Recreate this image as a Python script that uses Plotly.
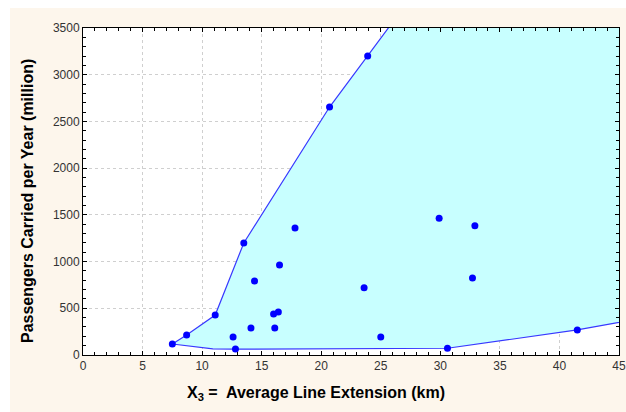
import plotly.graph_objects as go

# Data points: X3 = average line extension (km), passengers carried per year (million)
ext_km = [7.5, 8.7, 11.1, 13.5, 20.7, 23.9, 12.6, 12.8, 14.1, 14.4, 16.0, 16.4, 16.1,
          16.5, 17.8, 23.6, 25.0, 29.9, 30.6, 32.7, 32.9, 41.5]
passengers = [118, 214, 428, 1199, 2654, 3200, 193, 64, 289, 792, 439, 460, 289,
              963, 1359, 720, 193, 1463, 72, 824, 1384, 268]

# Region boundary (extends beyond axes, clipped by the plot area)
hull_x = [7.5, 8.7, 11.1, 13.5, 20.7, 23.9, 27.5, 55, 55, 41.5, 30.6, 12.8, 10.9, 7.5]
hull_y = [118, 214, 428, 1199, 2654, 3200, 3820, 3820, 580, 268, 72, 62, 66, 118]

x_ticks = [0, 5, 10, 15, 20, 25, 30, 35, 40, 45]
y_ticks = [0, 500, 1000, 1500, 2000, 2500, 3000, 3500]

x_title = "<b>X<sub>3</sub> =  Average Line Extension (km)</b>"
y_title = "<b>Passengers Carried per Year (million)</b>"

fig = go.Figure()
fig.add_trace(go.Scatter(x=hull_x, y=hull_y, mode="lines", fill="toself",
                         fillcolor="#C8FFFF", line=dict(color="#3838FF", width=1.2),
                         hoverinfo="skip", showlegend=False))
fig.add_trace(go.Scatter(x=ext_km, y=passengers, mode="markers",
                         marker=dict(color="#0000FF", size=7), showlegend=False))

W, H = 626, 412
L, R, T, B = 83, 7, 28, 57
pw, ph = W - L - R, H - T - B

def fx(px):
    return (px - L) / pw

def fy(py):
    return (H - B - py) / ph

fig.update_layout(
    width=W, height=H,
    margin=dict(l=L, r=R, t=T, b=B, autoexpand=False),
    paper_bgcolor="#FDF6EC",
    plot_bgcolor="white",
    font=dict(family="Liberation Sans, Arial, sans-serif", color="#222"),
    shapes=[
        dict(type="rect", xref="paper", yref="paper", layer="below",
             x0=fx(0), x1=fx(W), y0=fy(8), y1=fy(0),
             fillcolor="white", line=dict(width=0)),
        dict(type="rect", xref="paper", yref="paper", layer="below",
             x0=fx(0), x1=fx(10), y0=fy(H), y1=fy(0),
             fillcolor="white", line=dict(width=0)),
    ],
    annotations=[
        dict(text=x_title, xref="paper", yref="paper", x=fx(316), y=fy(393),
             xanchor="center", yanchor="middle", showarrow=False,
             font=dict(size=16, color="black", family="Liberation Sans, Arial, sans-serif")),
        dict(text=y_title, xref="paper", yref="paper", x=fx(27), y=fy(201),
             xanchor="center", yanchor="middle", showarrow=False, textangle=-90,
             font=dict(size=16, color="black", family="Liberation Sans, Arial, sans-serif")),
    ],
)
axis_common = dict(showline=True, linecolor="black", linewidth=1, mirror="ticks",
                   ticks="inside", ticklen=4, tickcolor="black",
                   showgrid=True, gridcolor="#CFCFCF", griddash="dot", gridwidth=1,
                   zeroline=False, automargin=False,
                   tickfont=dict(size=12, color="#333",
                                 family="Liberation Sans, Arial, sans-serif"))
fig.update_xaxes(range=[0, 45], tickvals=x_ticks,
                 minor=dict(dtick=1, ticks="inside", ticklen=3, tickcolor="black", showgrid=False),
                 **axis_common)
fig.update_yaxes(range=[0, 3500], tickvals=y_ticks,
                 minor=dict(dtick=100, ticks="inside", ticklen=3, tickcolor="black", showgrid=False),
                 **axis_common)

fig.write_html("out.html", config={"displayModeBar": False},
               post_script="document.body.style.margin='0px';document.body.style.overflow='hidden';")
